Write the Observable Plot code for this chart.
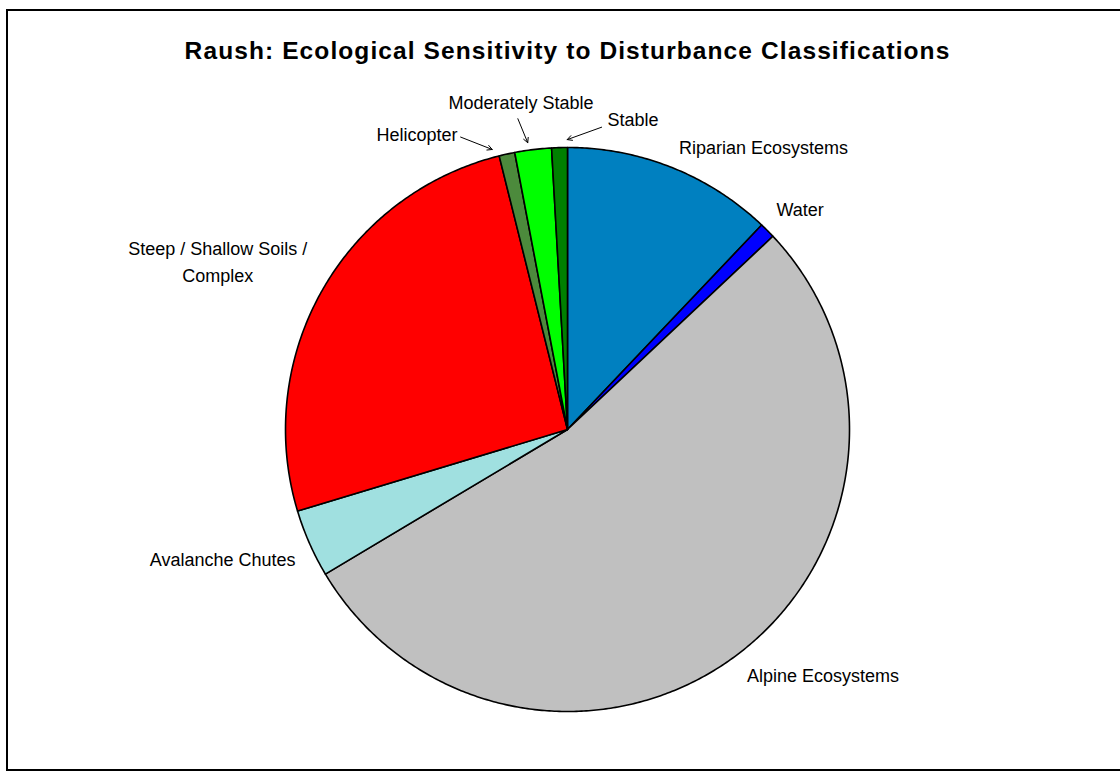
<!DOCTYPE html>
<html>
<head>
<meta charset="utf-8">
<script src="https://cdn.jsdelivr.net/npm/d3@7"></script>
<script src="https://cdn.jsdelivr.net/npm/@observablehq/plot@0.6"></script>
<style>
  html, body { margin: 0; padding: 0; background: #fff; overflow: hidden; }
  #frame { position: absolute; left: 6px; top: 9px; width: 1200px; height: 758px; border: 2px solid #000; }
  #chart { position: absolute; left: 0; top: 0; }
  /* the title is the last mark drawn */
  #chart svg > g:last-of-type text { letter-spacing: 1.1px; }
</style>
</head>
<body>
<div id="frame"></div>
<div id="chart"></div>
<script>
// Area share (%) of each sensitivity class, clockwise from 12 o'clock
const categories = [
  "Riparian Ecosystems",
  "Water",
  "Alpine Ecosystems",
  "Avalanche Chutes",
  "Steep / Shallow Soils / Complex",
  "Helicopter",
  "Moderately Stable",
  "Stable"
];
const shares = [12.1, 0.9, 53.5, 3.9, 25.8, 0.9, 2.1, 0.9];
const sliceColors = ["#0080C0", "#0000FF", "#C0C0C0", "#A0E0E0", "#FF0000", "#4C8A3C", "#00FF00", "#008000"];

const title = "Raush: Ecological Sensitivity to Disturbance Classifications";

// Label placement (centre of each label) in pie-radius units
const labelX = [0.695, 0.825, 0.906, -1.223, -1.240, -0.534, -0.165, 0.232];
const labelY = [1.006, 0.788, -0.865, -0.454, 0.601, 1.053, 1.168, 1.108];

// Leader arrows for the thin slices at the top
const leaderFor = ["Helicopter", "Moderately Stable", "Stable"];
const leaderX1 = [-0.379, -0.176, 0.121];
const leaderY1 = [1.037, 1.102, 1.072];
const leaderX2 = [-0.267, -0.141, -0.001];
const leaderY2 = [0.993, 1.017, 1.028];

// Slice outlines: centre -> arc -> centre, from d3.pie angles
const arcs = d3.pie().sort(null).value(d => d)(shares);
const outline = arcs.flatMap((a, i) => {
  const n = Math.max(2, Math.ceil((a.endAngle - a.startAngle) / (Math.PI / 360)));
  const pts = [{category: categories[i], x: 0, y: 0}];
  for (let k = 0; k <= n; k++) {
    const t = a.startAngle + (a.endAngle - a.startAngle) * k / n;
    pts.push({category: categories[i], x: Math.sin(t), y: Math.cos(t)});
  }
  pts.push({category: categories[i], x: 0, y: 0});
  return pts;
});

const labels = categories.map((c, i) => ({
  text: c.replace("Soils / ", "Soils /\n"),
  x: labelX[i],
  y: labelY[i]
}));
const leaders = leaderFor.map((c, i) => ({
  category: c, x1: leaderX1[i], y1: leaderY1[i], x2: leaderX2[i], y2: leaderY2[i]
}));

const font = "'Liberation Sans', Arial, Helvetica, sans-serif";

const chart = Plot.plot({
  width: 1120,
  height: 772,
  marginLeft: 285,
  marginRight: 271,
  marginTop: 147,
  marginBottom: 61,
  x: {domain: [-1, 1], axis: null},
  y: {domain: [-1, 1], axis: null},
  color: {domain: categories, range: sliceColors},
  style: {fontFamily: font, background: "transparent", overflow: "visible"},
  marks: [
    Plot.line(outline, {
      x: "x", y: "y", z: "category",
      fill: "category",
      stroke: "#000",
      strokeWidth: 1.6,
      strokeLinejoin: "round"
    }),
    Plot.arrow(leaders, {
      x1: "x1", y1: "y1", x2: "x2", y2: "y2",
      stroke: "#000", strokeWidth: 1, headLength: 8, headAngle: 55
    }),
    Plot.text(labels, {
      x: "x", y: "y", text: "text",
      fontSize: 18, lineHeight: 1.48, fill: "#000",
      textAnchor: "middle", lineAnchor: "middle"
    }),
    Plot.text([title], {
      text: d => d,
      frameAnchor: "top",
      dy: -89,
      lineAnchor: "bottom",
      fontSize: 24.5,
      fontWeight: "bold",
      fill: "#000"
    })
  ]
});

document.getElementById("chart").appendChild(chart);
</script>
</body>
</html>
